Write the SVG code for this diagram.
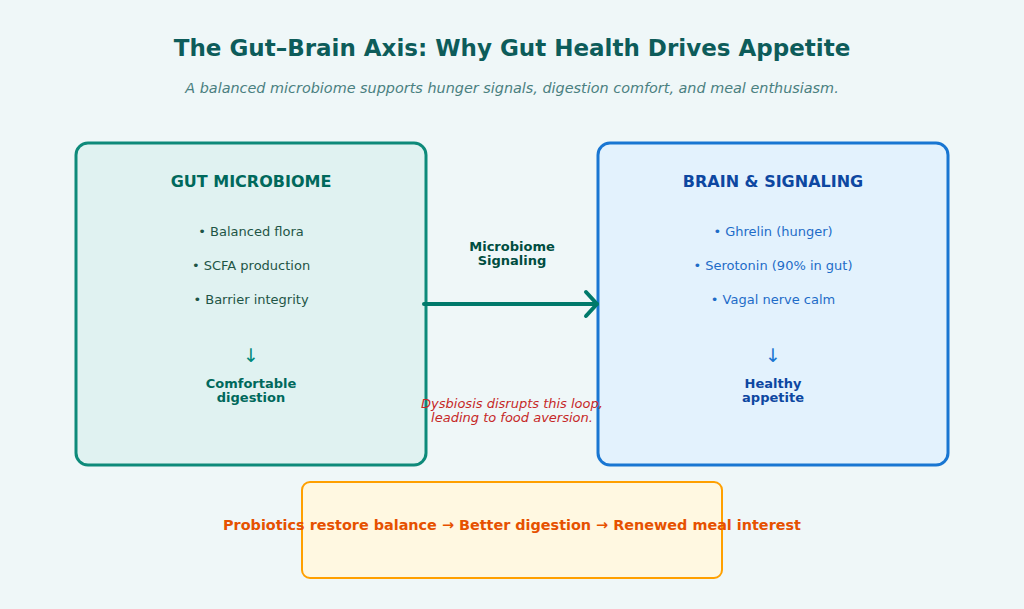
<svg xmlns="http://www.w3.org/2000/svg" width="1024" height="609" viewBox="0 0 1024 609">
<style>
text{font-family:"DejaVu Sans","Liberation Sans",sans-serif;text-anchor:middle;dominant-baseline:central}
.title{font-size:23px;font-weight:bold;fill:#0d5c5a}
.sub{font-size:14.4px;font-style:italic;fill:#4a8080}
.h{font-size:16px;font-weight:bold}
.b{font-size:13px}
.bb{font-size:13px;font-weight:bold}
.arr{font-size:19px}
</style>
<defs>
<marker id="chev" viewBox="0 0 30 30" refX="26" refY="15" markerWidth="30" markerHeight="30" orient="auto" markerUnits="userSpaceOnUse">
<path d="M15,3 L26,15 L15,27" fill="none" stroke="#00796b" stroke-width="4" stroke-linecap="round" stroke-linejoin="round"/>
</marker>
</defs>
<rect width="1024" height="609" fill="#eff7f8"/>
<text class="title" x="512" y="48">The Gut–Brain Axis: Why Gut Health Drives Appetite</text>
<text class="sub" x="512" y="88">A balanced microbiome supports hunger signals, digestion comfort, and meal enthusiasm.</text>
<g id="gut">
<rect x="76" y="143" width="350" height="322" rx="12" fill="#e0f2f1" stroke="#0e8a7a" stroke-width="3"/>
<text class="h" x="251" y="181" fill="#00695c">GUT MICROBIOME</text>
<text class="b" x="251" y="231" fill="#1e5546">• Balanced flora</text>
<text class="b" x="251" y="265" fill="#1e5546">• SCFA production</text>
<text class="b" x="251" y="299" fill="#1e5546">• Barrier integrity</text>
<text class="arr" x="251" y="355" fill="#00897b">↓</text>
<text class="bb" x="251" y="383" fill="#00695c">Comfortable</text>
<text class="bb" x="251" y="397" fill="#00695c">digestion</text>
</g>
<g id="brain">
<rect x="598" y="143" width="350" height="322" rx="12" fill="#e3f2fd" stroke="#1976d2" stroke-width="3"/>
<text class="h" x="773" y="181" fill="#0d47a1">BRAIN &amp; SIGNALING</text>
<text class="b" x="773" y="231" fill="#1e6cc8">• Ghrelin (hunger)</text>
<text class="b" x="773" y="265" fill="#1e6cc8">• Serotonin (90% in gut)</text>
<text class="b" x="773" y="299" fill="#1e6cc8">• Vagal nerve calm</text>
<text class="arr" x="773" y="355" fill="#1976d2">↓</text>
<text class="bb" x="773" y="383" fill="#0d47a1">Healthy</text>
<text class="bb" x="773" y="397" fill="#0d47a1">appetite</text>
</g>
<g id="connectors">
<line x1="424" y1="304" x2="597" y2="304" stroke="#00796b" stroke-width="4" stroke-linecap="round" marker-end="url(#chev)"/>
<text class="bb" x="512" y="246" fill="#004d40">Microbiome</text>
<text class="bb" x="512" y="260" fill="#004d40">Signaling</text>
<text class="b" x="512" y="403" fill="#c62828" font-style="italic">Dysbiosis disrupts this loop,</text>
<text class="b" x="512" y="417" fill="#c62828" font-style="italic">leading to food aversion.</text>
</g>
<g id="summary">
<rect x="302" y="482" width="420" height="96" rx="8" fill="#fff8e1" stroke="#ffa000" stroke-width="2"/>
<text x="512" y="525" font-size="14.4" font-weight="bold" fill="#e65100">Probiotics restore balance → Better digestion → Renewed meal interest</text>
</g>
</svg>
